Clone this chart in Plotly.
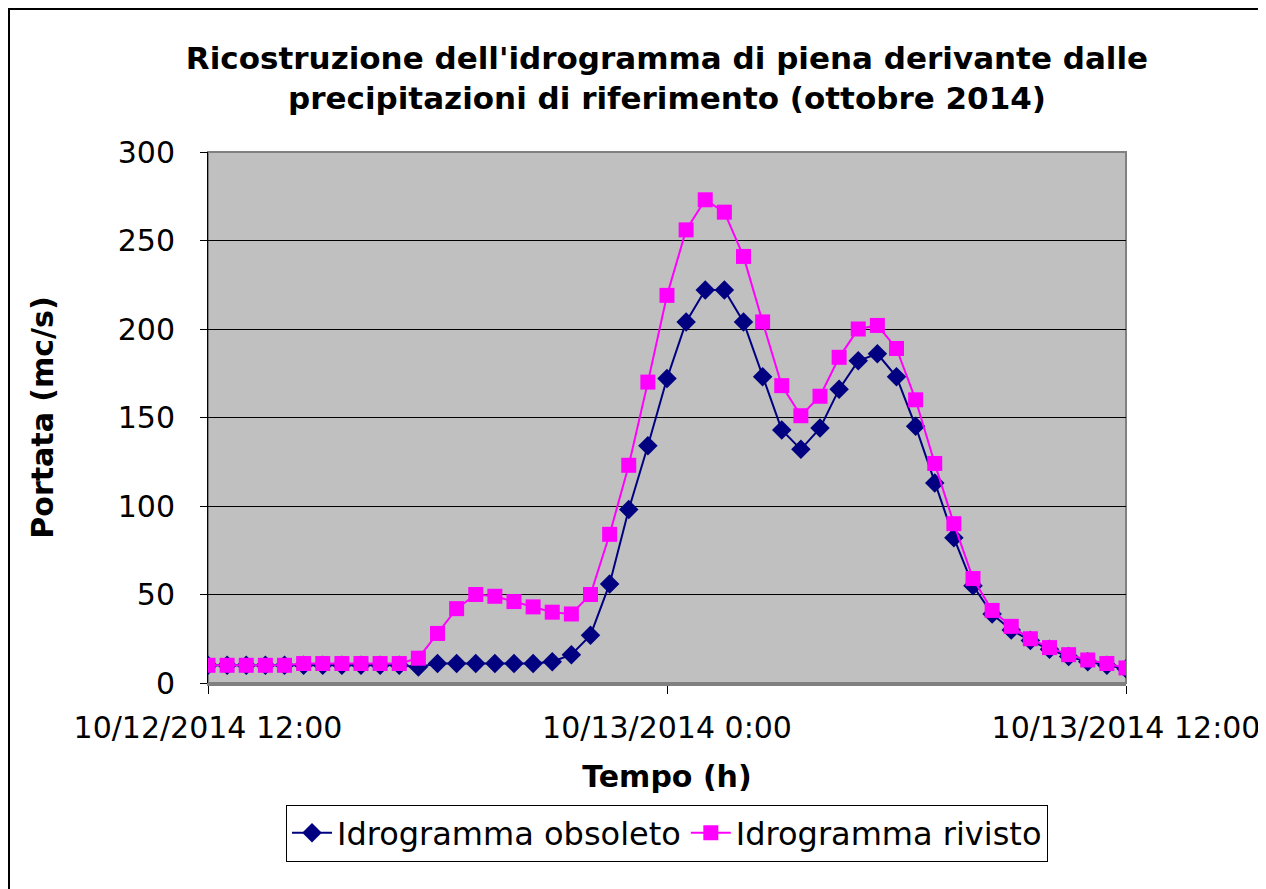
import plotly.graph_objects as go
import pandas as pd

start = "2014-10-12 12:00"
times = pd.date_range(start=start, periods=49, freq="30min")

obsoleto = [10, 10, 10, 10, 10, 10, 10, 10, 10, 10, 10, 9, 11, 11, 11, 11, 11, 11, 12, 16,
            27, 56, 98, 134, 172, 204, 222, 222, 204, 173, 143, 132, 144, 166, 182, 186,
            173, 145, 113, 82, 55, 39, 30, 24, 19, 15, 12, 10, 8]
rivisto = [10, 10, 10, 10, 10, 11, 11, 11, 11, 11, 11, 14, 28, 42, 50, 49, 46, 43, 40, 39,
           50, 84, 123, 170, 219, 256, 273, 266, 241, 204, 168, 151, 162, 184, 200, 202,
           189, 160, 124, 90, 59, 41, 32, 25, 20, 16, 13, 11, 8.5]

tick_vals = ["2014-10-12 12:00", "2014-10-13 00:00", "2014-10-13 12:00"]
tick_text = ["10/12/2014 12:00", "10/13/2014 0:00", "10/13/2014 12:00"]

FONT = "DejaVu Sans"

fig = go.Figure()
fig.add_trace(go.Scatter(x=times, y=obsoleto, mode="lines+markers", name="Idrogramma obsoleto",
                         line=dict(color="#000080", width=2),
                         marker=dict(symbol="diamond", size=15, color="#000080")))
fig.add_trace(go.Scatter(x=times, y=rivisto, mode="lines+markers", name="Idrogramma rivisto",
                         line=dict(color="#FF00FF", width=2),
                         marker=dict(symbol="square", size=15, color="#FF00FF")))

W, H = 1266, 889
OFF = 8  # page body margin
L, T = 208 - OFF, 152 - OFF
pw, ph = 918, 531
R, B = W - L - pw, H - T - ph

def px_x(p):
    return (p - OFF - L) / pw

def px_y(p):
    return (H - B - (p - OFF)) / ph

fig.update_layout(
    width=W, height=H,
    margin=dict(l=L, r=R, t=T, b=B),
    paper_bgcolor="white",
    plot_bgcolor="#C0C0C0",
    font=dict(family=FONT, color="black"),
    title=dict(text="<b>Ricostruzione dell'idrogramma di piena derivante dalle<br>precipitazioni di riferimento (ottobre 2014)</b>",
               x=0.5, xanchor="center", xref="paper", y=1 - (69 - OFF) / H, yanchor="middle",
               font=dict(size=31, family=FONT)),
    xaxis=dict(type="date", range=[times[0], times[-1]], tickvals=tick_vals, ticktext=tick_text,
               showgrid=False, ticks="outside", ticklen=8, tickcolor="black",
               showline=True, linecolor="#808080", linewidth=3, zeroline=False,
               tickfont=dict(size=30, family=FONT), ticklabelstandoff=8,
               title=dict(text="<b>Tempo (h)</b>", font=dict(size=30, family=FONT), standoff=22)),
    yaxis=dict(range=[0, 300], dtick=50, showgrid=True, gridcolor="black", gridwidth=1,
               ticks="outside", ticklen=7, tickcolor="black",
               showline=True, linecolor="black", linewidth=1, zeroline=False,
               tickfont=dict(size=30, family=FONT), ticklabelstandoff=19,
               title=dict(text="<b>Portata (mc/s)</b>", font=dict(size=30, family=FONT), standoff=55)),
    legend=dict(orientation="h", x=0.5, xanchor="center", y=px_y(833), yanchor="middle",
                bordercolor="black", borderwidth=1, bgcolor="white",
                font=dict(size=32, family=FONT), itemwidth=40, tracegroupgap=0),
    showlegend=True,
)

# plot-area border (grey) and outer chart border
fig.add_shape(type="rect", xref="paper", yref="paper", x0=0, x1=1, y0=0, y1=1,
              line=dict(color="#808080", width=2), layer="below")
fig.add_shape(type="rect", xref="paper", yref="paper", x0=px_x(9), x1=px_x(1273), y0=px_y(896), y1=px_y(9),
              line=dict(color="black", width=2))

fig.write_html("out.html")
